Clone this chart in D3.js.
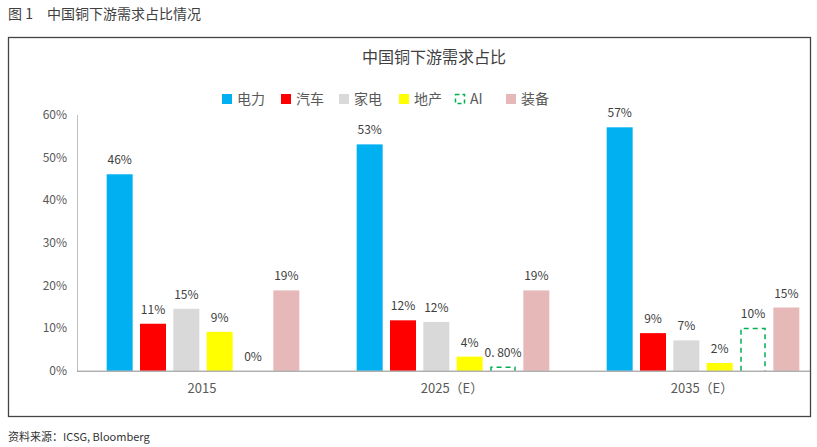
<!DOCTYPE html>
<html><head><meta charset="utf-8">
<script src="https://cdn.jsdelivr.net/npm/d3@7"></script>
<style>body{margin:0;background:#fff}svg{display:block}text{font-family:"Noto Sans CJK SC","Noto Sans",sans-serif}</style>
</head><body><svg id="c" width="817" height="447"></svg>
<script>
const categories = ["2015", "2025（E）", "2035（E）"];
const seriesNames = ["电力", "汽车", "家电", "地产", "AI", "装备"];
const seriesColors = ["#00B0F0", "#FF0000", "#D9D9D9", "#FFFF00", "#00B050", "#E6B9B8"];
const values = [
  [46, 11, 14.5, 9.1, 0, 18.8],
  [53, 11.8, 11.4, 3.3, 0.8, 18.8],
  [57, 8.8, 7.1, 1.8, 9.9, 14.8]
];
const valueLabels = [
  ["46%", "11%", "15%", "9%", "0%", "19%"],
  ["53%", "12%", "12%", "4%", "0. 80%", "19%"],
  ["57%", "9%", "7%", "2%", "10%", "15%"]
];
const yTicks = [0, 10, 20, 30, 40, 50, 60];

const svg = d3.select("#c");
// outer frame
svg.append("rect").attr("x", 8.5).attr("y", 37.5).attr("width", 802).attr("height", 379)
  .attr("fill", "none").attr("stroke", "#444").attr("stroke-width", 1.3);

svg.append("text").attr("x", 8).attr("y", 19).attr("font-size", 14).attr("fill", "#404040")
  .text("图 1　中国铜下游需求占比情况");
svg.append("text").attr("x", 8).attr("y", 441).attr("font-size", 11).attr("fill", "#333")
  .text("资料来源：ICSG, Bloomberg");

svg.append("text").attr("x", 434).attr("y", 63).attr("text-anchor", "middle")
  .attr("font-size", 16).attr("fill", "#404040").text("中国铜下游需求占比");

const y = d3.scaleLinear().domain([0, 60]).range([370.7, 114.5]);
const x0 = d3.scaleBand().domain(categories).range([77, 827]);
const x1 = d3.scaleBand().domain(seriesNames).range([26, 226]).paddingInner(0.22).paddingOuter(0.11);

// y axis
const yAxis = svg.append("g").attr("transform", "translate(77,0)")
  .call(d3.axisLeft(y).tickValues(yTicks).tickFormat(d => d + "%").tickSize(0).tickPadding(10));
yAxis.select(".domain").attr("stroke", "#BFBFBF");
yAxis.selectAll("text").attr("font-size", 12).attr("fill", "#595959")
  .attr("font-family", "Liberation Sans, Arial, sans-serif");

// bars
categories.forEach((cat, ci) => {
  const g = svg.append("g").attr("transform", `translate(${x0(cat)},0)`);
  seriesNames.forEach((s, si) => {
    const v = values[ci][si];
    const bx = x1(s), bw = x1.bandwidth();
    if (s === "AI") {
      if (v > 0) {
        g.append("path")
          .attr("d", `M${bx + 1},${y(0)} V${y(v)} H${bx + bw - 1} V${y(0)}`)
          .attr("fill", "none").attr("stroke", seriesColors[si]).attr("stroke-width", 1.5)
          .attr("stroke-dasharray", "5,4");
      }
    } else {
      g.append("rect").attr("x", bx).attr("y", y(v)).attr("width", bw)
        .attr("height", y(0) - y(v)).attr("fill", seriesColors[si]);
    }
    g.append("text").attr("x", bx + bw / 2).attr("y", y(v) - 10)
      .attr("text-anchor", "middle").attr("font-size", 12).attr("fill", "#404040")
      .attr("font-family", s === "AI" && ci === 1 ? "Noto Sans CJK SC, sans-serif" : "Liberation Sans, Arial, sans-serif")
      .text(valueLabels[ci][si]);
  });
});

// x axis
const xAxis = svg.append("g").attr("transform", `translate(0,${y(0)})`)
  .call(d3.axisBottom(x0).tickSize(0).tickPadding(13));
xAxis.select(".domain").attr("d", `M77,0.5H810`).attr("stroke", "#8C8C8C");
xAxis.selectAll("text").attr("font-size", 13).attr("fill", "#595959");

// legend
const legX = [222, 281, 339, 399, 455, 506];
const leg = svg.append("g");
seriesNames.forEach((s, i) => {
  const lx = legX[i], ly = 99;
  if (s === "AI") {
    leg.append("rect").attr("x", lx + 0.5).attr("y", ly - 4.5).attr("width", 9).attr("height", 9)
      .attr("fill", "none").attr("stroke", seriesColors[i]).attr("stroke-width", 1.5)
      .attr("stroke-dasharray", "4,3");
  } else {
    leg.append("rect").attr("x", lx).attr("y", ly - 5).attr("width", 10).attr("height", 10)
      .attr("fill", seriesColors[i]);
  }
  leg.append("text").attr("x", lx + 15).attr("y", ly + 5).attr("font-size", 14)
    .attr("fill", "#595959").text(s);
});
</script></body></html>
